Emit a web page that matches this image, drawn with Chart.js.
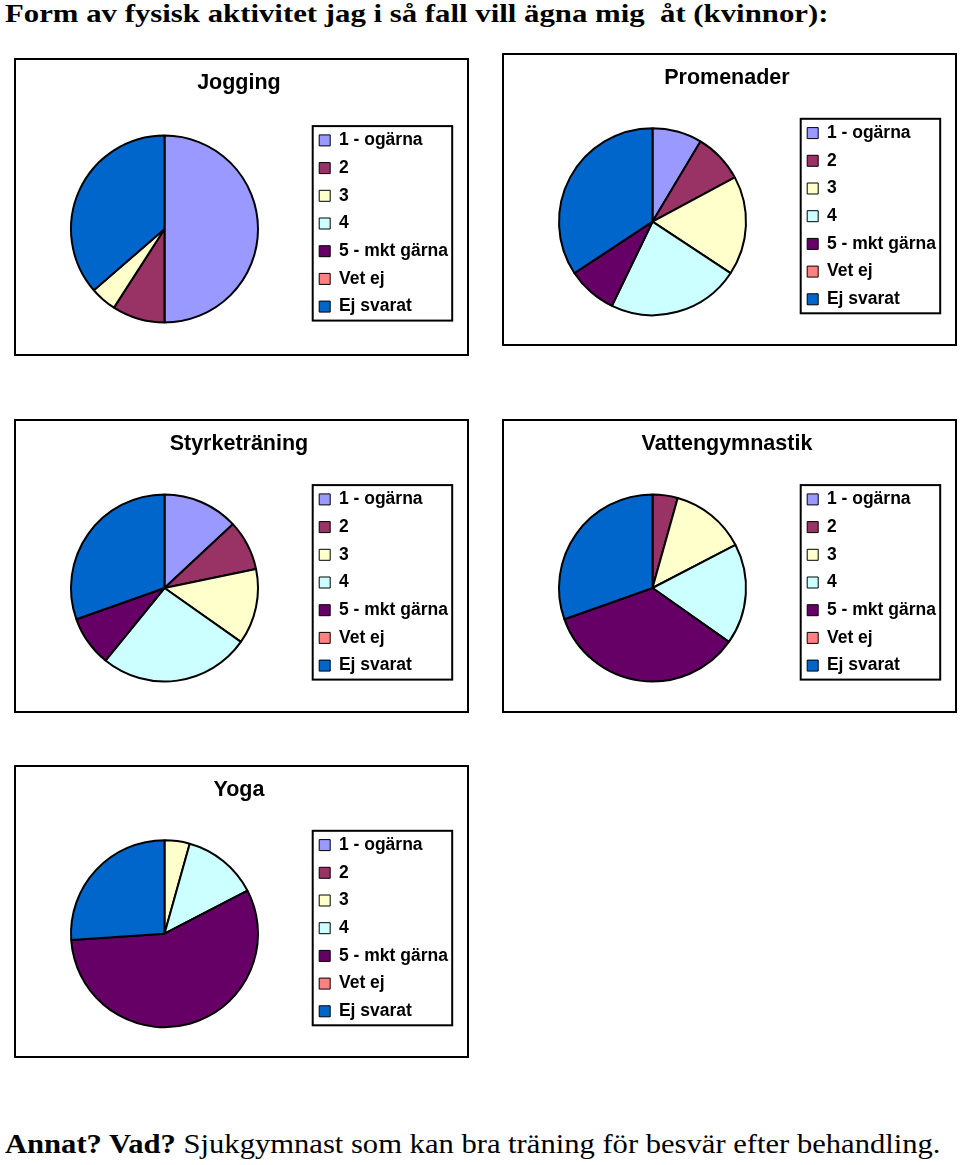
<!DOCTYPE html>
<html>
<head>
<meta charset="utf-8">
<script src="https://cdn.jsdelivr.net/npm/chart.js@4/dist/chart.umd.min.js"></script>
<style>
  body { margin: 0; background: #fff; width: 960px; height: 1165px; position: relative; overflow: hidden; }
  .txt { position: absolute; font-family: "Liberation Serif", "Times New Roman", serif; color: #000; white-space: pre; transform-origin: 0 0; }
  #head { left: 5px; top: 1px; font-size: 26px; line-height: 26px; font-weight: bold; transform: scaleX(1.184); }
  #foot { left: 5px; top: 1131px; font-size: 27px; line-height: 27px; transform: scaleX(1.133); }
  canvas { position: absolute; }
</style>
</head>
<body>
<div class="txt" id="head">Form av fysisk aktivitet jag i så fall vill ägna mig  åt (kvinnor):</div>
<canvas id="c1" width="455" height="298" style="left:14px;top:58px"></canvas>
<canvas id="c2" width="455" height="293" style="left:502px;top:53px"></canvas>
<canvas id="c3" width="455" height="294" style="left:14px;top:419px"></canvas>
<canvas id="c4" width="455" height="294" style="left:502px;top:419px"></canvas>
<canvas id="c5" width="455" height="293" style="left:14px;top:765px"></canvas>
<div class="txt" id="foot"><b>Annat? Vad?</b> Sjukgymnast som kan bra träning för besvär efter behandling.</div>

<script>
// answer categories (same for every chart)
const categories = ['1 - ogärna', '2', '3', '4', '5 - mkt gärna', 'Vet ej', 'Ej svarat'];

// number of answers per category
const jogging = [11, 2, 1, 0, 0, 0, 8];
const promenader = [3, 3, 6, 8, 3, 0, 12];
const styrketraning = [3, 2, 3, 6, 2, 0, 7];
const vattengymnastik = [0, 1, 3, 4, 8, 0, 7];
const yoga = [0, 0, 1, 3, 13, 0, 6];

const sliceColors = ['#9999FF', '#993366', '#FFFFCC', '#CCFFFF', '#660066', '#FF8080', '#0066CC'];

const fontFamily = '"Liberation Sans", Arial, Helvetica, sans-serif';
const legendSize = 17.5;
const legendPad = 10.2;

// width that chart.js will give the legend on the right
function legendWidth() {
    const ctx = document.createElement('canvas').getContext('2d');
    ctx.font = 'bold ' + legendSize + 'px ' + fontFamily;
    let w = 0;
    categories.forEach(function(t) { w = Math.max(w, ctx.measureText(t).width); });
    return legendPad + 11 + legendSize / 2 + w + 10;
}

// frame round the whole chart + box round the legend
const framePlugin = {
    id: 'frame',
    afterLayout: function(chart) {
        // legend is centred on the pie, a bit higher (keep it tall enough for one column)
        const lg = chart.legend;
        const c = (chart.chartArea.top + chart.chartArea.bottom) / 2 - 5.5;
        lg.top = c - 115;
        lg.bottom = c + 115;
        lg.height = 230;
    },
    afterDraw: function(chart) {
        const ctx = chart.ctx;
        const lg = chart.legend;
        const rowH = legendSize + legendPad;
        const y0 = ((lg.top + legendPad) + lg.bottom - categories.length * rowH) / 2;
        const first = y0 + legendSize / 2;
        const last = first + (categories.length - 1) * rowH;
        ctx.save();
        ctx.strokeStyle = '#000';
        ctx.lineWidth = 2;
        ctx.strokeRect(lg.left + legendPad - 6.5, first - 14.3, 139.5, last - first + 28.3);
        ctx.strokeRect(1, 1, chart.width - 2, chart.height - 2);
        ctx.restore();
    }
};

function makePie(id, title, values, cy) {
    const canvas = document.getElementById(id);
    const W = canvas.width, H = canvas.height;
    const R = 94.5, legendLeft = 295, cx = 150.5;
    const padLeft = 2 * cx - legendLeft;
    const padRight = W - legendLeft - legendWidth();
    const titleLine = 21.5 * 1.2;
    const padTop = 25 - titleLine / 2;

    new Chart(canvas.getContext('2d'), {
        type: 'pie',
        data: {
            labels: categories,
            datasets: [{
                data: values,
                backgroundColor: sliceColors,
                borderColor: '#000',
                borderWidth: 2
            }]
        },
        options: {
            responsive: false,
            animation: false,
            layout: {
                padding: { left: padLeft, right: padRight, top: padTop, bottom: H - (cy + R) }
            },
            plugins: {
                title: {
                    display: true,
                    text: title,
                    color: '#000',
                    font: { family: fontFamily, size: 21.5, weight: 'bold', lineHeight: 1.2 },
                    padding: { top: 0, bottom: (cy - R) - padTop - titleLine }
                },
                legend: {
                    position: 'right',
                    labels: {
                        color: '#000',
                        boxWidth: 11,
                        boxHeight: 11,
                        padding: legendPad,
                        font: { family: fontFamily, size: legendSize, weight: 'bold' },
                        generateLabels: function(chart) {
                            const items = Chart.overrides.pie.plugins.legend.labels.generateLabels(chart);
                            items.forEach(function(it) { it.lineWidth = 1; it.strokeStyle = '#000'; });
                            return items;
                        }
                    }
                },
                tooltip: { enabled: false }
            }
        },
        plugins: [framePlugin]
    });
}

makePie('c1', 'Jogging', jogging, 171);
makePie('c2', 'Promenader', promenader, 168.7);
makePie('c3', 'Styrketräning', styrketraning, 169);
makePie('c4', 'Vattengymnastik', vattengymnastik, 169);
makePie('c5', 'Yoga', yoga, 168.7);
</script>
</body>
</html>
